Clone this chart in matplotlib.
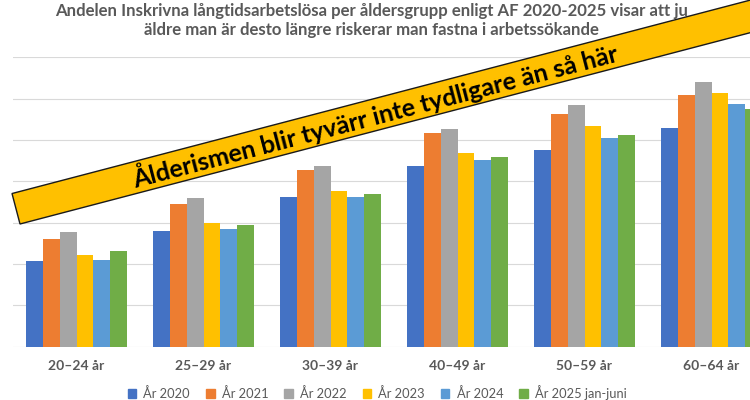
import numpy as np
import matplotlib
matplotlib.use("Agg")
import matplotlib.pyplot as plt
from matplotlib.patches import Rectangle, Patch

# --- Data (gridline step = 1 unit) ---
groups = ["20–24 år", "25–29 år", "30–39 år", "40–49 år", "50–59 år", "60–64 år"]
series = ["År 2020", "År 2021", "År 2022", "År 2023", "År 2024", "År 2025 jan-juni"]
y2020 = [2.07, 2.79, 3.63, 4.36, 4.75, 5.28]
y2021 = [2.61, 3.45, 4.26, 5.16, 5.63, 6.09]
y2022 = [2.76, 3.60, 4.36, 5.26, 5.84, 6.40]
y2023 = [2.22, 2.99, 3.76, 4.68, 5.34, 6.13]
y2024 = [2.10, 2.85, 3.62, 4.52, 5.05, 5.86]
y2025 = [2.31, 2.95, 3.70, 4.59, 5.11, 5.74]
colors = ["#4472C4", "#ED7D31", "#A5A5A5", "#FFC000", "#5B9BD5", "#70AD47"]

title = ("Andelen Inskrivna långtidsarbetslösa per åldersgrupp enligt AF 2020-2025 visar att ju\n"
         "äldre man är desto längre riskerar man fastna i arbetssökande")
banner = "Ålderismen blir tyvärr inte tydligare än så här"

font = ["Lato", "DejaVu Sans"]
grey = "#595959"

fig = plt.figure(figsize=(7.5, 4.0), dpi=100)

# --- Bars ---
ax = fig.add_axes([13 / 750, 0.13375, 762 / 750, 0.7231])
x = np.arange(len(groups))
w = 0.1323
for j, vals in enumerate([y2020, y2021, y2022, y2023, y2024, y2025]):
    ax.bar(x + (j - 2.5) * w, vals, w, color=colors[j], zorder=3)

ax.set_xlim(-0.5, 5.5)
ax.set_ylim(0, 7)
ax.set_yticks(np.arange(0, 8))
ax.grid(axis="y", color="#D9D9D9", linewidth=0.8, zorder=0)
ax.tick_params(axis="y", left=False, labelleft=False)
ax.set_xticks(x)
ax.set_xticklabels(groups, family=font, fontsize=10, fontweight="bold", color=grey)
ax.tick_params(axis="x", length=0, pad=10)
for s in ax.spines.values():
    s.set_visible(False)

# --- Title ---
fig.text(0.4955, 0.993, title, ha="center", va="top", family=font, fontsize=12.1,
         fontweight="bold", color=grey, linespacing=1.22)

# --- Legend ---
handles = [Patch(color=c) for c in colors]
fig.legend(handles, series, loc="center", bbox_to_anchor=(0.503, 0.019), ncol=6,
           frameon=False, handlelength=0.65, handleheight=0.65, handletextpad=0.55,
           columnspacing=1.25, prop={"family": font, "size": 9.3}, labelcolor=grey)

# --- Banner ---
ov = fig.add_axes([0, 0, 1, 1], zorder=10)
ov.set_xlim(0, 750)
ov.set_ylim(0, 400)
ov.axis("off")
ang = np.degrees(np.arctan(0.262))
ov.add_patch(Rectangle((20, 176), 780, 31.5, angle=ang, facecolor="#FFC000",
                       edgecolor="#1a1a1a", linewidth=1.0))
ov.text(375, 285.5, banner, rotation=ang, rotation_mode="anchor", ha="center", va="center",
        family=font, fontsize=18, fontweight="bold", color="black")

fig.savefig("out.png", dpi=100)
